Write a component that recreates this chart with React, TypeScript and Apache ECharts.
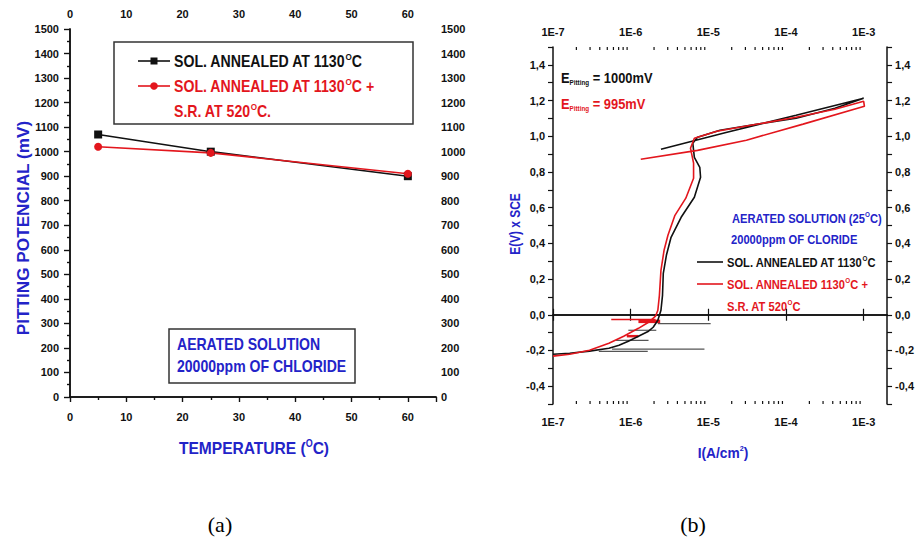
import React, { useEffect, useRef } from "react";
import * as echarts from "echarts";

// ---------- Panel (a): pitting potential vs temperature ----------
const TEMPS = [5, 25, 60];
const PIT_SOL = [1070, 1000, 900];
const PIT_SR = [1020, 995, 910];

// ---------- Panel (b): polarization curves (log10 I, E) ----------
const SOL_LOG_I = [-7.0, -6.785, -6.53, -6.28, -6.15, -6.03, -5.9, -5.77, -5.71, -5.65, -5.61, -5.59, -5.58, -5.54, -5.48, -5.35, -5.18, -5.1, -5.11, -5.18, -5.2, -5.14, -4.85, -4.38, -3.87, -3.37, -3.0, -3.87, -4.76, -5.61];
const SOL_E = [-0.221, -0.216, -0.204, -0.188, -0.171, -0.148, -0.12, -0.092, -0.07, -0.031, 0.025, 0.109, 0.232, 0.333, 0.434, 0.546, 0.658, 0.77, 0.826, 0.882, 0.961, 0.994, 1.034, 1.067, 1.101, 1.157, 1.213, 1.118, 1.022, 0.927];

const SR_LOG_I = [-7.0, -6.785, -6.53, -6.28, -6.09, -5.9, -5.77, -5.68, -5.65, -5.63, -5.61, -5.57, -5.52, -5.43, -5.29, -5.19, -5.19, -5.23, -5.18, -4.89, -4.38, -3.87, -3.37, -3.0, -2.99, -3.78, -4.51, -5.14, -5.87];
const SR_E = [-0.232, -0.221, -0.199, -0.16, -0.12, -0.076, -0.042, -0.008, 0.025, 0.109, 0.249, 0.361, 0.445, 0.557, 0.653, 0.765, 0.849, 0.933, 0.989, 1.028, 1.067, 1.106, 1.151, 1.196, 1.168, 1.068, 0.978, 0.921, 0.871];

// noise spikes: [logI start, logI end, E, line width]
const SOL_SPIKES = [
  [-6.24, -5.05, -0.193, 1.2],
  [-6.41, -5.78, -0.205, 1.2],
  [-6.19, -5.77, -0.143, 1.2],
  [-6.03, -5.67, -0.087, 1.2],
  [-5.65, -4.97, -0.05, 1.2],
];
const SR_SPIKES = [
  [-6.25, -5.68, -0.027, 1.4],
  [-5.9, -5.62, -0.037, 3.5],
  [-6.05, -5.9, -0.12, 2.5],
];

const DECADES = [-7, -6, -5, -4, -3];
const MINOR_MULT = [2, 3, 4, 5, 6, 7, 8, 9];

const FONT = '"Liberation Sans", Arial, sans-serif';
const BLUE = "#2323c8";
const RED = "#e3161d";
const BLACK = "#111111";
const S = 0.9;

const commaLabel = (v: number) => {
  const n = Math.round(v * 10);
  if (n % 2 !== 0) return "";
  return (n / 10).toFixed(1).replace(".", ",");
};
const expLabel = (v: number) => "1E" + Math.round(Math.log10(v));

export default function App() {
  const ref = useRef<HTMLDivElement>(null);
  useEffect(() => {
    document.body.style.margin = "0";
    const chart = echarts.init(ref.current!, null, { renderer: "svg" });

    const lab = { fontFamily: FONT, fontWeight: "bold" as const, fontSize: 11, color: "#111" };
    const axLine = { show: true, lineStyle: { color: "#111", width: 1.5 } };

    const aX = (pos: "top" | "bottom", inside: boolean) => ({
      type: "value", gridIndex: 0, position: pos, min: 0, max: 65, interval: 10,
      axisLine: axLine,
      axisTick: { show: true, inside, length: 5, lineStyle: { color: "#111", width: 1.2 } },
      minorTick: { show: true, splitNumber: 2, length: 3, lineStyle: { color: "#111", width: 1.2 } },
      axisLabel: { ...lab, margin: pos === "bottom" ? 14 : 10, showMaxLabel: false, formatter: (v: number) => String(v) },
      splitLine: { show: false },
    });
    const aY = (pos: "left" | "right", inside: boolean) => ({
      type: "value", gridIndex: 0, position: pos, min: 0, max: 1500, interval: 100,
      axisLine: axLine,
      axisTick: { show: true, inside, length: 6, lineStyle: { color: "#111", width: 1.2 } },
      minorTick: { show: true, splitNumber: 2, length: 3, lineStyle: { color: "#111", width: 1.2 } },
      axisLabel: { ...lab, margin: pos === "left" ? 11 : 5, formatter: (v: number) => String(v) },
      splitLine: { show: false },
    });
    const bX = (pos: "top" | "bottom") => ({
      type: "log", logBase: 10, gridIndex: 1, position: pos, min: 1e-7, max: 2e-3,
      axisLine: axLine,
      axisTick: { show: true, inside: true, length: 6, lineStyle: { color: "#111", width: 1.2 } },
      axisLabel: { ...lab, margin: pos === "bottom" ? 12 : 10, showMaxLabel: false, formatter: expLabel },
      splitLine: { show: false },
    });
    const bY = (pos: "left" | "right") => ({
      type: "value", gridIndex: 1, position: pos, min: -0.5, max: 1.5, interval: 0.1,
      axisLine: axLine,
      axisTick: { show: true, inside: false, length: 5, lineStyle: { color: "#111", width: 1.2 } },
      axisLabel: { ...lab, margin: 8, formatter: commaLabel },
      splitLine: { show: false },
    });

    const minorVals: number[][] = [];
    DECADES.forEach((d) => MINOR_MULT.forEach((m) => {
      const v = m * Math.pow(10, d);
      if (v < 2e-3) minorVals.push([v, 0]);
    }));

    const spikeSeries = (spikes: number[][], color: string) => ({
      type: "custom", xAxisIndex: 2, yAxisIndex: 2, clip: true, silent: true,
      data: spikes.map((s) => [Math.pow(10, s[0]), s[2], Math.pow(10, s[1]), s[3]]),
      renderItem: (params: any, api: any) => {
        const p0 = api.coord([api.value(0), api.value(1)]);
        const p1 = api.coord([api.value(2), api.value(1)]);
        return {
          type: "line",
          shape: { x1: p0[0], y1: p0[1], x2: p1[0], y2: p1[1] },
          style: { stroke: color, lineWidth: api.value(3) },
        };
      },
    });

    const rich = (fill: string, size: number) => {
      const lh = Math.round(size * 1.15);
      return {
        t: { fontSize: size, fontWeight: "bold", fontFamily: FONT, fill, lineHeight: lh },
        s: { fontSize: Math.round(size * 0.55), fontWeight: "bold", fontFamily: FONT, fill, verticalAlign: "top", lineHeight: lh },
        sub: { fontSize: Math.round(size * 0.5), fontWeight: "bold", fontFamily: FONT, fill, verticalAlign: "bottom", lineHeight: lh },
      };
    };

    const txt = (x: number, y: number, text: string, fill: string, size: number, extra: any = {}) => ({
      type: "text", x, y, silent: true, scaleX: extra.scaleX ?? S, rotation: extra.rotation ?? 0,
      style: { text, rich: rich(fill, size), verticalAlign: "middle", align: extra.align ?? "left" },
    });

    const option: any = {
      animation: false,
      textStyle: { fontFamily: FONT },
      grid: [
        { left: 70, top: 29, width: 366, height: 368 },
        { left: 553, top: 47, width: 340, height: 357 },
      ],
      xAxis: [aX("bottom", false), aX("top", true), bX("bottom"), bX("top")],
      yAxis: [aY("left", false), aY("right", true), bY("left"), bY("right")],
      series: [
        {
          type: "line", xAxisIndex: 0, yAxisIndex: 0, name: "SOL. ANNEALED AT 1130°C",
          data: TEMPS.map((t, i) => [t, PIT_SOL[i]]),
          symbol: "rect", symbolSize: 8,
          lineStyle: { color: BLACK, width: 1.6 }, itemStyle: { color: BLACK },
        },
        {
          type: "line", xAxisIndex: 0, yAxisIndex: 0, name: "SOL. ANNEALED AT 1130°C + S.R. AT 520°C.",
          data: TEMPS.map((t, i) => [t, PIT_SR[i]]),
          symbol: "circle", symbolSize: 8,
          lineStyle: { color: RED, width: 1.6 }, itemStyle: { color: RED },
        },
        spikeSeries(SOL_SPIKES, "#555555"),
        {
          type: "line", xAxisIndex: 2, yAxisIndex: 2, name: "SOL. ANNEALED AT 1130°C",
          data: SOL_LOG_I.map((l, i) => [Math.pow(10, l), SOL_E[i]]),
          showSymbol: false, symbol: "none",
          lineStyle: { color: BLACK, width: 1.6 },
        },
        spikeSeries(SR_SPIKES, RED),
        {
          type: "line", xAxisIndex: 2, yAxisIndex: 2, name: "SOL. ANNEALED 1130°C + S.R. AT 520°C",
          data: SR_LOG_I.map((l, i) => [Math.pow(10, l), SR_E[i]]),
          showSymbol: false, symbol: "none",
          lineStyle: { color: RED, width: 1.6 },
        },
        {
          type: "custom", xAxisIndex: 2, yAxisIndex: 2, silent: true, clip: false,
          data: minorVals,
          renderItem: (params: any, api: any) => {
            const b = api.coord([api.value(0), -0.5]);
            const t = api.coord([api.value(0), 1.5]);
            return {
              type: "group",
              children: [
                { type: "line", shape: { x1: b[0], y1: b[1], x2: b[0], y2: b[1] - 3 }, style: { stroke: "#111", lineWidth: 1.2 } },
                { type: "line", shape: { x1: t[0], y1: t[1], x2: t[0], y2: t[1] + 3 }, style: { stroke: "#111", lineWidth: 1.2 } },
              ],
            };
          },
        },
      ],
      graphic: [
        // panel (a) legend box
        { type: "rect", shape: { x: 114, y: 42, width: 299, height: 82 }, style: { fill: "#fff", stroke: "#333", lineWidth: 1.5 }, silent: true },
        { type: "line", shape: { x1: 138, y1: 61, x2: 170, y2: 61 }, style: { stroke: BLACK, lineWidth: 1.6 } },
        { type: "rect", shape: { x: 150.5, y: 57.5, width: 7, height: 7 }, style: { fill: BLACK } },
        { type: "line", shape: { x1: 138, y1: 86, x2: 170, y2: 86 }, style: { stroke: RED, lineWidth: 1.6 } },
        { type: "circle", shape: { cx: 154, cy: 86, r: 3.8 }, style: { fill: RED } },
        txt(174, 61, "{t|SOL. ANNEALED AT 1130}{s|O}{t|C}", BLACK, 15.7),
        txt(174, 86, "{t|SOL. ANNEALED AT 1130}{s|O}{t|C +}", RED, 15.7),
        txt(174, 111, "{t|S.R. AT 520}{s|O}{t|C.}", RED, 15.7),
        // panel (a) annotation box
        { type: "rect", shape: { x: 169, y: 329, width: 186, height: 54 }, style: { fill: "#fff", stroke: "#333", lineWidth: 1.5 }, silent: true },
        txt(177, 345, "{t|AERATED SOLUTION}", BLUE, 15.6),
        txt(177, 367, "{t|20000ppm OF CHLORIDE}", BLUE, 15.6),
        // panel (a) axis titles
        txt(23, 228, "{t|PITTING POTENCIAL (mV)}", BLUE, 17.2, { align: "center", rotation: Math.PI / 2, scaleX: 1 }),
        txt(254, 448, "{t|TEMPERATURE (}{s|O}{t|C)}", BLUE, 17.3, { align: "center" }),
        // panel (b) annotations
        txt(561, 78, "{t|E}{sub|Pitting}{t| = 1000mV}", BLACK, 14.3),
        txt(561, 104, "{t|E}{sub|Pitting}{t| = 995mV}", RED, 14.3),
        txt(732, 218, "{t|AERATED SOLUTION (25}{s|O}{t|C)}", BLUE, 12.4),
        txt(731, 239, "{t|20000ppm OF CLORIDE}", BLUE, 12.4),
        { type: "line", shape: { x1: 697, y1: 262, x2: 723, y2: 262 }, style: { stroke: BLACK, lineWidth: 1.6 } },
        txt(727, 262, "{t|SOL. ANNEALED AT 1130}{s|O}{t|C}", BLACK, 12.4),
        { type: "line", shape: { x1: 697, y1: 284, x2: 723, y2: 284 }, style: { stroke: RED, lineWidth: 1.6 } },
        txt(727, 284, "{t|SOL. ANNEALED 1130}{s|O}{t|C +}", RED, 12.4),
        txt(727, 306, "{t|S.R. AT 520}{s|O}{t|C}", RED, 12.4),
        // panel (b) axis titles
        txt(515, 224, "{t|E(V) x SCE}", BLUE, 14.5, { align: "center", rotation: Math.PI / 2, scaleX: 0.82 }),
        txt(723, 453, "{t|I(A/cm}{s|2}{t|)}", BLUE, 15.3, { align: "center" }),
        // captions
        { type: "text", x: 220, y: 524, style: { text: "(a)", font: '22px "Liberation Serif", "DejaVu Serif", serif', fill: "#000", align: "center", verticalAlign: "middle" } },
        { type: "text", x: 693, y: 524, style: { text: "(b)", font: '22px "Liberation Serif", "DejaVu Serif", serif', fill: "#000", align: "center", verticalAlign: "middle" } },
      ],
    };
    chart.setOption(option);
    return () => chart.dispose();
  }, []);
  return <div ref={ref} style={{ width: 917, height: 544 }} />;
}
